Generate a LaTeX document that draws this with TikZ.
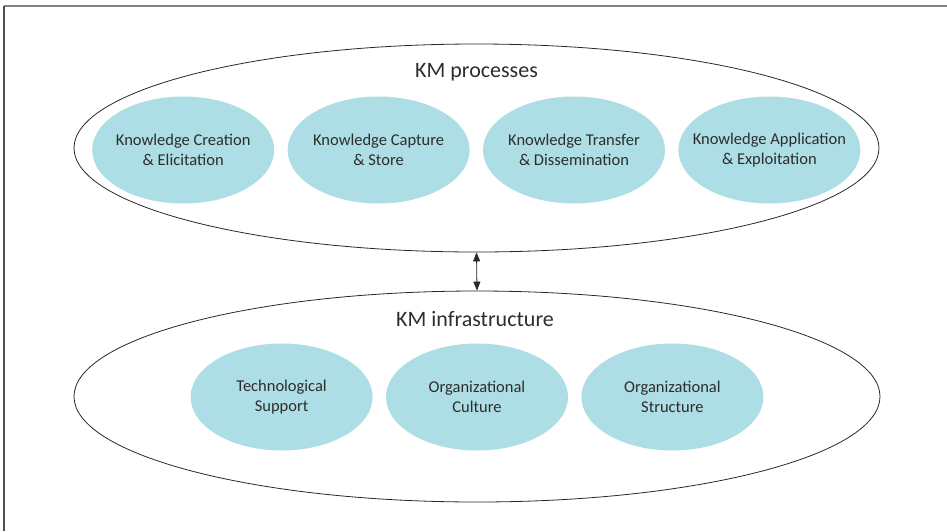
\documentclass[tikz,border=0pt]{standalone}
\usepackage{fontspec}
\setmainfont{Carlito}
\usetikzlibrary{positioning}
\usetikzlibrary{shapes.geometric}
\usetikzlibrary{arrows.meta}
\definecolor{phasecolor}{RGB}{173, 221, 229}
\definecolor{textcolor}{RGB}{45, 45, 45}
\definecolor{outlinecolor}{RGB}{40, 40, 40}
\definecolor{framecolor}{RGB}{130, 130, 130}
\tikzstyle{group} = [
    ellipse,
    draw=outlinecolor,
    line width=0.8pt,
    inner sep=0pt
]
\tikzstyle{phase} = [
    ellipse,
    fill=phasecolor,
    text=textcolor,
    align=center,
    minimum width=182pt,
    minimum height=107pt,
    inner xsep=-30pt,
    inner ysep=0pt,
    font=\fontsize{16.5}{20}\selectfont
]
\tikzstyle{title} = [text=textcolor, font=\fontsize{22}{26}\selectfont]
\tikzstyle{link} = [{Triangle[length=9pt, width=7pt]}-{Triangle[length=9pt, width=7pt]}, line width=0.8pt, outlinecolor]

\begin{document}
\begin{tikzpicture}[x=1pt, y=-1pt]

	\useasboundingbox (0,0) rectangle (947,531);

	% Frame
	\draw[framecolor, line width=1.5pt] (4,6) -- (947,6);
	\draw[framecolor!60!black, line width=1.5pt] (4,6) -- (4,531);

	%
	% KM processes

	\node[group, minimum width=805pt, minimum height=208pt] (processes) at (476.5,148) {};
	\node[title] (processeslabel) at (476.5,72) {KM processes};

	\node[phase] (transfer) at (574,150) {Knowledge Transfer\\\& Dissemination};
	\node[phase, left=13pt of transfer] (capture) {Knowledge Capture\\\& Store};
	\node[phase, left=13pt of capture] (creation) {Knowledge Creation\\\& Elicitation};
	\node[phase, right=13pt of transfer] (application) {Knowledge Application\\\& Exploitation};

	%
	% KM infrastructure

	\node[group, minimum width=806pt, minimum height=211pt] (infrastructure) at (477,396.5) {};
	\node[title] (infrastructurelabel) at (475,319) {KM infrastructure};

	\node[phase] (culture) at (477,397) {Organizational\\Culture};
	\node[phase, left=13pt of culture] (technology) {Technological\\Support};
	\node[phase, right=13pt of culture] (structure) {Organizational\\Structure};

	% Arrows
	\draw[link] (processes.south) -- (infrastructure.north);

\end{tikzpicture}
\end{document}
